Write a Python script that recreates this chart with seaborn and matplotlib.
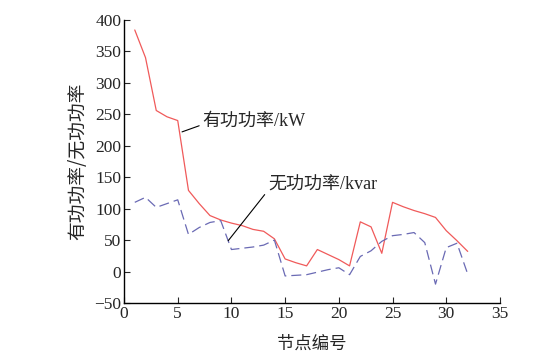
import numpy as np
import pandas as pd
import seaborn as sns
import matplotlib.pyplot as plt

# Knotennummern und Leistungen
nodes = list(range(1, 33))
p_active = [384, 340, 256, 246, 240, 129, 108, 89, 82, 77, 73, 67, 64, 52, 20, 14,
            9, 35, 27, 19, 9, 79, 71, 29, 110, 103, 97, 92, 86, 65, 49, 32]
q_reactive = [110, 118, 102, 108, 114, 59, 70, 78, 81, 35, 37, 39, 42, 50, -7, -6,
              -5, -1, 3, 6, -5, 24, 33, 48, 57, 59, 62, 46, -20, 38, 45, -4]
x_ticks = [0, 5, 10, 15, 20, 25, 30, 35]
y_ticks = [-50, 0, 50, 100, 150, 200, 250, 300, 350, 400]

df = pd.DataFrame({"node": nodes, "P": p_active, "Q": q_reactive})

sns.set_style("ticks")
plt.rcParams['font.family'] = ['Liberation Serif', 'Noto Sans CJK SC']
plt.rcParams['xtick.direction'] = 'in'
plt.rcParams['ytick.direction'] = 'in'

fig = plt.figure(figsize=(5.44, 3.62), dpi=100)
ax = fig.add_axes([0.228, 0.163, 0.691, 0.782])

sns.lineplot(data=df, x="node", y="P", ax=ax, color="#f05a5a", linewidth=0.9)
sns.lineplot(data=df, x="node", y="Q", ax=ax, color="#6a6ab4", linewidth=0.9,
             linestyle=(0, (8, 4)))

ax.set_xlim(0, 35)
ax.set_ylim(-50, 400)
ax.set_xticks(x_ticks)
ax.set_yticks(y_ticks)
ax.tick_params(labelsize=12.5, length=4, width=0.8, pad=2)
for s in ["top", "right"]:
    ax.spines[s].set_visible(False)
for s in ["left", "bottom"]:
    ax.spines[s].set_linewidth(1.0)
    ax.spines[s].set_color("black")

ax.set_xlabel("节点编号", fontsize=12.5, family=['Noto Sans CJK SC'], labelpad=9)
ax.set_ylabel("有功功率/无功功率", fontsize=13.5, family=['Noto Sans CJK SC'], labelpad=4)

ax.annotate("有功功率/kW", xy=(5.4, 222), xytext=(7.3, 239),
            fontsize=13, va="center", family=['Liberation Serif', 'Noto Sans CJK SC'],
            arrowprops=dict(arrowstyle="-", color="black", lw=0.8, shrinkA=0, shrinkB=0,
                            relpos=(0, 0.3)))
ax.annotate("无功功率/kvar", xy=(9.7, 49), xytext=(13.4, 137),
            fontsize=13, va="center", family=['Liberation Serif', 'Noto Sans CJK SC'],
            arrowprops=dict(arrowstyle="-", color="black", lw=0.8, shrinkA=0, shrinkB=0,
                            relpos=(0, 0.2)))

fig.savefig("out.png", dpi=100)
